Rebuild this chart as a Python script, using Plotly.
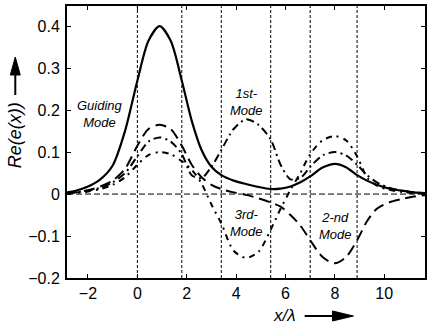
import plotly.graph_objects as go

x = [-2.85, -2.5, -2, -1.5, -1, -0.5, 0, 0.45, 0.9, 1.35, 1.8, 2.2, 2.6, 3.0, 3.4, 3.9, 4.4,
     4.9, 5.4, 5.8, 6.2, 6.6, 7.0, 7.5, 8.0, 8.45, 8.9, 9.3, 9.7, 10.2, 10.7, 11.2, 11.65]

guiding = [0.004, 0.008, 0.018, 0.035, 0.068, 0.15, 0.27, 0.365, 0.40, 0.365, 0.27, 0.175, 0.105,
           0.065, 0.045, 0.032, 0.024, 0.017, 0.012, 0.013, 0.018, 0.028, 0.042, 0.063, 0.072,
           0.064, 0.045, 0.032, 0.022, 0.013, 0.008, 0.004, 0.002]
mode1 = [0.002, 0.004, 0.008, 0.015, 0.028, 0.05, 0.09, 0.125, 0.135, 0.125, 0.095, 0.045, 0.038,
         0.065, 0.105, 0.155, 0.178, 0.165, 0.13, 0.07, 0.035, 0.038, 0.065, 0.092, 0.10,
         0.092, 0.07, 0.045, 0.028, 0.015, 0.008, 0.004, 0.002]
mode2 = [0.002, 0.004, 0.009, 0.018, 0.032, 0.06, 0.115, 0.155, 0.165, 0.155, 0.115, 0.07, 0.04,
         0.022, 0.012, 0.004, -0.002, -0.01, -0.02, -0.03, -0.05, -0.075, -0.11, -0.15, -0.165,
         -0.15, -0.11, -0.065, -0.035, -0.02, -0.012, -0.006, -0.003]
mode3 = [0.002, 0.003, 0.006, 0.012, 0.022, 0.04, 0.07, 0.093, 0.10, 0.095, 0.078, 0.058, 0.025,
         -0.025, -0.07, -0.135, -0.152, -0.138, -0.085, -0.035, 0.01, 0.05, 0.095, 0.128, 0.138,
         0.128, 0.09, 0.04, 0.02, 0.01, 0.005, 0.002, 0.001]

guide_edges = [0, 1.8, 3.4, 5.4, 7.0, 8.9]

labels = [
    ("<i>Guiding<br>Mode</i>", -1.53, 0.19),
    ("<i>1st-<br>Mode</i>", 4.44, 0.219),
    ("<i>3rd-<br>Mode</i>", 4.44, -0.069),
    ("<i>2-nd<br>Mode</i>", 8.02, -0.076),
]

FONT = "Liberation Sans, Arial"
W, H = 428, 328
L, R, T, B = 67, 1, 6, 50
pw, ph = W - L - R, H - T - B


def px2paper(px, py):
    return (px - L) / pw, (H - B - py) / ph


fig = go.Figure()
series = [
    (guiding, "solid", 2.2),
    (mode1, "8px,4px,2px,4px", 2),
    (mode2, "11px,6px", 2),
    (mode3, "6px,5px,2px,5px", 2),
]
for ys, dash, w in series:
    fig.add_trace(go.Scatter(x=x, y=ys, mode="lines",
                             line=dict(color="black", width=w, dash=dash, shape="spline", smoothing=0.8),
                             showlegend=False, hoverinfo="skip"))

for xe in guide_edges:
    fig.add_shape(type="line", x0=xe, x1=xe, y0=0, y1=1, xref="x", yref="paper",
                  line=dict(color="black", width=1, dash="3px,2px"))
fig.add_shape(type="line", x0=0, x1=1, y0=0, y1=0, xref="paper", yref="y",
              line=dict(color="black", width=1, dash="6px,3px"))

for txt, lx, ly in labels:
    fig.add_annotation(x=lx, y=ly, text=txt, showarrow=False, xref="x", yref="y",
                       xanchor="center", yanchor="middle",
                       font=dict(family=FONT, size=13, color="black"))

# axis titles
px_, py_ = px2paper(15, 135)
fig.add_annotation(x=px_, y=py_, xref="paper", yref="paper", text="<i>Re(e(x))</i>",
                   showarrow=False, textangle=-90, xanchor="center", yanchor="middle",
                   font=dict(family=FONT, size=18, color="black"))
px_, py_ = px2paper(286, 315)
fig.add_annotation(x=px_, y=py_, xref="paper", yref="paper", text="<i>x/λ</i>",
                   showarrow=False, xanchor="center", yanchor="middle",
                   font=dict(family=FONT, size=17, color="black"))


# arrows drawn as shapes (paper coords)
def line_px(x0, y0, x1, y1):
    a, b = px2paper(x0, y0)
    c, d = px2paper(x1, y1)
    fig.add_shape(type="line", x0=a, y0=b, x1=c, y1=d, xref="paper", yref="paper",
                  line=dict(color="black", width=2))


def tri_px(pts):
    path = ""
    for i, (px, py) in enumerate(pts):
        a, b = px2paper(px, py)
        path += ("M" if i == 0 else " L") + f"{a:.5f},{b:.5f}"
    path += " Z"
    fig.add_shape(type="path", path=path, xref="paper", yref="paper",
                  fillcolor="black", line=dict(color="black", width=1))


line_px(15, 95, 15, 72)
tri_px([(15, 57), (10, 75), (20, 75)])
line_px(306, 316, 337, 316)
tri_px([(355, 316), (334, 311), (334, 321)])

fig.update_layout(
    width=W, height=H,
    margin=dict(l=L, r=R, t=T, b=B),
    paper_bgcolor="white", plot_bgcolor="white",
    font=dict(family=FONT, size=16, color="black"),
)
fig.update_xaxes(range=[-2.85, 11.65], dtick=2, tick0=0, ticks="inside", ticklen=4,
                 showline=True, linecolor="black", linewidth=2, mirror="ticks",
                 showgrid=False, zeroline=False, tickcolor="black")
fig.update_yaxes(range=[-0.2, 0.448], dtick=0.1, tick0=0, ticks="inside", ticklen=4,
                 showline=True, linecolor="black", linewidth=2, mirror="ticks",
                 showgrid=False, zeroline=False, tickcolor="black", ticklabelstandoff=2)

fig.write_html("out.html", config={"displayModeBar": False},
               post_script="document.body.style.margin='0';document.body.style.overflow='hidden';")
